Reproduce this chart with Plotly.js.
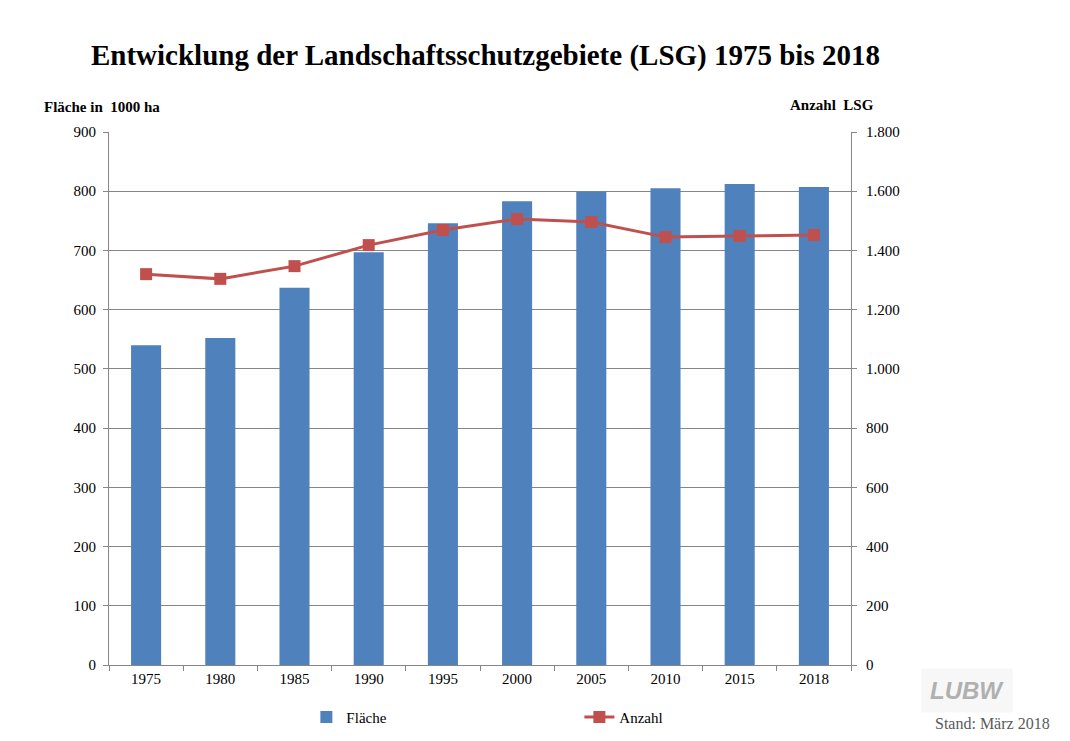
<!DOCTYPE html>
<html>
<head>
<meta charset="utf-8">
<script src="https://cdn.plot.ly/plotly-3.0.1.min.js"></script>
<style>
  html, body { margin: 0; padding: 0; background: #fff; }
  #chart { width: 1070px; height: 741px; }
</style>
</head>
<body>
<div id="chart"></div>
<script>
// LSG development 1975-2018: area (bars, left axis) and count (line, right axis).
const years = ["1975", "1980", "1985", "1990", "1995", "2000", "2005", "2010", "2015", "2018"];
const flaeche = [540, 552, 637, 697, 746, 783, 799, 805, 812, 807]; // 1000 ha
const anzahl = [1320, 1304, 1347, 1418, 1469, 1506, 1496, 1445, 1449, 1452];

const BAR_COLOR = "#4F81BD";
const LINE_COLOR = "#C0504D";
const GRID = "#868686";
const SERIF = "Liberation Serif, Times New Roman, serif";

const traces = [
  {
    type: "bar",
    name: "Fläche",
    x: years,
    y: flaeche,
    marker: { color: BAR_COLOR },
    hoverinfo: "x+y",
  },
  {
    type: "scatter",
    mode: "lines+markers",
    name: "Anzahl",
    x: years,
    y: anzahl,
    yaxis: "y2",
    line: { color: LINE_COLOR, width: 3 },
    marker: { symbol: "square", size: 12, color: LINE_COLOR },
  },
];

const axisFont = { family: SERIF, size: 15, color: "#000" };

const layout = {
  width: 1070,
  height: 741,
  margin: { l: 109, r: 219, t: 132, b: 76, autoexpand: false },
  paper_bgcolor: "#fff",
  plot_bgcolor: "#fff",
  separators: ",.",
  font: { family: SERIF, size: 15, color: "#000" },
  bargap: 0.595,
  title: {
    text: "<b>Entwicklung der Landschaftsschutzgebiete (LSG) 1975 bis 2018</b>",
    font: { family: SERIF, size: 29, color: "#000" },
    xref: "container",
    x: 0.4537,
    xanchor: "center",
    yref: "container",
    y: 0.926,
    yanchor: "middle",
  },
  xaxis: {
    type: "category",
    range: [-0.5, years.length - 0.5], // no marker padding: bars fill the category band
    showline: true,
    linecolor: GRID,
    linewidth: 1,
    ticks: "outside",
    tickson: "boundaries",
    ticklen: 5,
    tickcolor: GRID,
    tickfont: axisFont,
    showgrid: false,
    zeroline: false,
  },
  yaxis: {
    range: [0, 900],
    dtick: 100,
    showline: true,
    linecolor: GRID,
    linewidth: 1,
    ticks: "outside",
    ticklen: 5,
    tickcolor: GRID,
    tickfont: axisFont,
    showgrid: true,
    gridcolor: GRID,
    gridwidth: 1,
    zeroline: false,
    ticklabelstandoff: 4,
  },
  yaxis2: {
    range: [0, 1800],
    dtick: 200,
    overlaying: "y",
    side: "right",
    tickformat: ",d",
    showline: true,
    linecolor: GRID,
    linewidth: 1,
    ticks: "outside",
    ticklen: 5,
    tickcolor: GRID,
    tickfont: axisFont,
    showgrid: false,
    zeroline: false,
    ticklabelstandoff: 6,
  },
  legend: {
    orientation: "h",
    x: 0.266,
    xanchor: "left",
    y: -0.098,
    yanchor: "middle",
    entrywidth: 228,
    entrywidthmode: "pixels",
    font: { family: SERIF, size: 15, color: "#000" },
    bgcolor: "rgba(0,0,0,0)",
  },
  annotations: [
    {
      text: "<b>Fläche in  1000 ha</b>",
      xref: "paper",
      yref: "paper",
      x: -0.09,
      xanchor: "left",
      y: 1.047,
      yanchor: "middle",
      showarrow: false,
      font: { family: SERIF, size: 15, color: "#000" },
    },
    {
      text: "<b>Anzahl  LSG</b>",
      xref: "paper",
      yref: "paper",
      x: 0.915,
      xanchor: "left",
      y: 1.051,
      yanchor: "middle",
      showarrow: false,
      font: { family: SERIF, size: 15, color: "#000" },
    },
    {
      text: "<b><i>LUBW</i></b>",
      xref: "paper",
      yref: "paper",
      x: 1.157,
      xanchor: "center",
      y: -0.047,
      yanchor: "middle",
      showarrow: false,
      bgcolor: "#f7f7f7",
      borderpad: 8,
      font: { family: "Liberation Sans, Arial, sans-serif", size: 24, color: "#b0b0b0" },
    },
    {
      text: "Stand: März 2018",
      xref: "paper",
      yref: "paper",
      x: 1.11,
      xanchor: "left",
      y: -0.109,
      yanchor: "middle",
      showarrow: false,
      font: { family: SERIF, size: 16, color: "#5a5a5a" },
    },
  ],
};

Plotly.newPlot("chart", traces, layout, { staticPlot: true, displayModeBar: false });
</script>
</body>
</html>
